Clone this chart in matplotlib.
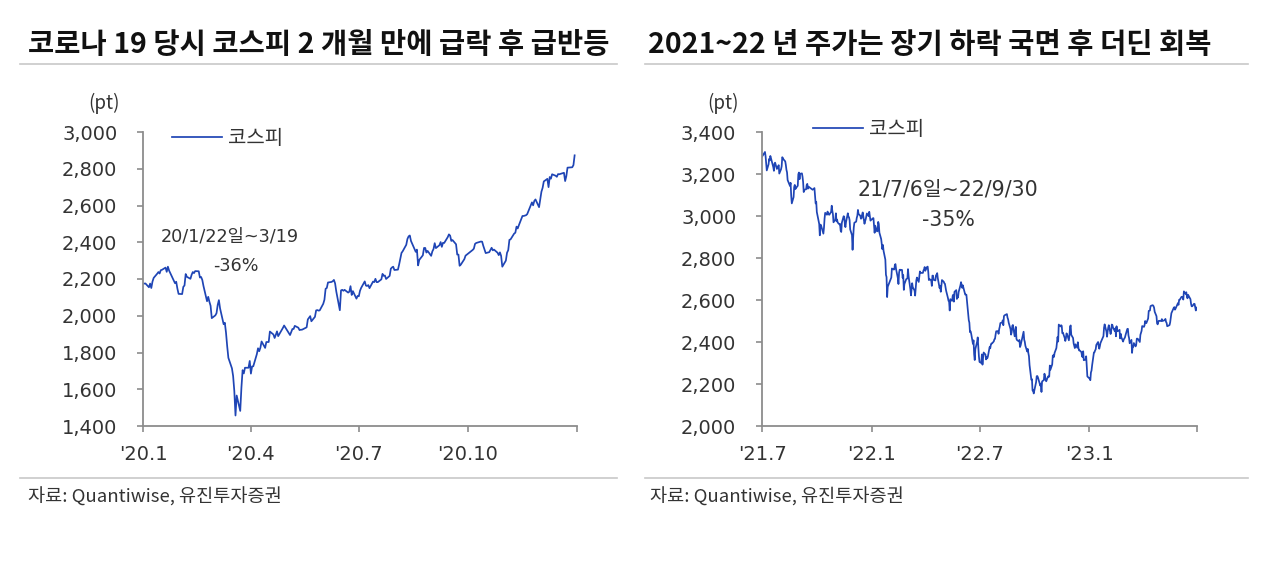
import pandas as pd
import matplotlib
matplotlib.use("Agg")
import matplotlib.pyplot as plt
from matplotlib.lines import Line2D
from matplotlib.ticker import FuncFormatter, MultipleLocator

plt.rcParams['font.family'] = ['Noto Sans CJK KR', 'DejaVu Sans']
num_font = ['DejaVu Sans', 'Noto Sans CJK KR']

# ---- data: KOSPI 2020 (left panel) ----
d20 = ["01-02","01-03","01-06","01-07","01-08","01-09","01-10","01-13","01-14","01-15","01-16","01-17",
       "01-20","01-21","01-22","01-23","01-28","01-29","01-30","01-31","02-03","02-04","02-05","02-06",
       "02-07","02-10","02-11","02-12","02-13","02-14","02-17","02-18","02-19","02-20","02-21","02-24",
       "02-25","02-26","02-27","02-28","03-02","03-03","03-04","03-05","03-06","03-09","03-10","03-11",
       "03-12","03-13","03-16","03-17","03-18","03-19","03-20","03-23","03-24","03-25","03-26","03-27",
       "03-30","03-31","04-01","04-02","04-03","04-06","04-07","04-08","04-09","04-10","04-13","04-14",
       "04-16","04-17","04-20","04-21","04-22","04-23","04-24","04-27","04-28","04-29","05-04","05-06",
       "05-07","05-08","05-11","05-12","05-13","05-14","05-15","05-18","05-19","05-20","05-21","05-22",
       "05-25","05-26","05-27","05-28","05-29","06-01","06-02","06-03","06-04","06-05","06-08","06-09",
       "06-10","06-11","06-12","06-15","06-16","06-17","06-18","06-19","06-22","06-23","06-24","06-25",
       "06-26","06-29","06-30","07-01","07-02","07-03","07-06","07-07","07-08","07-09","07-10","07-13",
       "07-14","07-15","07-16","07-17","07-20","07-21","07-22","07-23","07-24","07-27","07-28","07-29",
       "07-30","07-31","08-03","08-04","08-05","08-06","08-07","08-10","08-11","08-12","08-13","08-14",
       "08-18","08-19","08-20","08-21","08-24","08-25","08-26","08-27","08-28","08-31","09-01","09-02",
       "09-03","09-04","09-07","09-08","09-09","09-10","09-11","09-14","09-15","09-16","09-17","09-18",
       "09-21","09-22","09-23","09-24","09-25","09-28","09-29","10-05","10-06","10-07","10-08","10-12",
       "10-13","10-14","10-15","10-16","10-19","10-20","10-21","10-22","10-23","10-26","10-27","10-28",
       "10-29","10-30","11-02","11-03","11-04","11-05","11-06","11-09","11-10","11-11","11-12","11-13",
       "11-16","11-17","11-18","11-19","11-20","11-23","11-24","11-25","11-26","11-27","11-30","12-01",
       "12-02","12-03","12-04","12-07","12-08","12-09","12-10","12-11","12-14","12-15","12-16","12-17",
       "12-18","12-21","12-22","12-23","12-24","12-28","12-29","12-30"]
k20 = [2175,2176,2155,2175,2151,2186,2206,2229,2238,2230,2248,2250,
       2262,2239,2267,2246,2177,2185,2148,2119,2118,2157,2165,2227,
       2212,2201,2223,2238,2232,2243,2242,2208,2211,2195,2162,2079,
       2103,2076,2054,1987,2002,2014,2059,2085,2040,1954,1962,1908,
       1834,1771,1714,1672,1591,1457,1566,1482,1609,1704,1686,1717,
       1717,1754,1685,1724,1725,1791,1823,1807,1826,1860,1825,1857,
       1857,1914,1898,1879,1896,1915,1889,1922,1934,1947,1895,1928,
       1928,1945,1935,1922,1924,1924,1927,1937,1980,1989,1998,1970,
       1994,2029,2031,2028,2029,2065,2087,2147,2151,2181,2184,2188,
       2195,2176,2132,2030,2138,2141,2136,2141,2126,2131,2161,2113,
       2134,2093,2108,2106,2136,2152,2187,2164,2162,2167,2150,2186,
       2183,2201,2183,2183,2198,2228,2217,2219,2200,2217,2256,2263,
       2267,2249,2251,2279,2311,2342,2351,2386,2418,2432,2437,2407,
       2348,2360,2274,2304,2329,2369,2369,2344,2353,2326,2350,2363,
       2395,2368,2384,2401,2375,2397,2396,2428,2443,2436,2407,2412,
       2389,2333,2333,2272,2278,2308,2327,2358,2365,2391,2396,2404,
       2403,2380,2361,2341,2346,2358,2370,2356,2360,2343,2330,2345,
       2326,2267,2300,2343,2357,2413,2416,2447,2452,2485,2475,2493,
       2543,2543,2545,2547,2553,2602,2617,2601,2625,2633,2591,2634,
       2675,2696,2731,2745,2700,2755,2746,2770,2762,2756,2771,2770,
       2772,2778,2733,2760,2806,2808,2820,2873]

# ---- data: KOSPI 2021.7 ~ 2023.6 (right panel) ----
d21 = ["07-01","07-06","07-07","07-08","07-09","07-12","07-13","07-14","07-15","07-16","07-19","07-20",
       "07-21","07-22","07-23","07-26","07-27","07-28","07-29","07-30","08-02","08-03","08-04","08-05",
       "08-06","08-09","08-10","08-11","08-12","08-13","08-17","08-18","08-19","08-20","08-23","08-24",
       "08-25","08-26","08-27","08-30","08-31","09-01","09-02","09-03","09-06","09-07","09-08","09-09",
       "09-10","09-13","09-14","09-15","09-16","09-17","09-23","09-24","09-27","09-28","09-29","09-30",
       "10-01","10-05","10-06","10-07","10-08","10-12","10-13","10-14","10-15","10-18","10-19","10-20",
       "10-21","10-22","10-25","10-26","10-27","10-28","10-29","11-01","11-02","11-03","11-04","11-05",
       "11-08","11-09","11-10","11-11","11-12","11-15","11-16","11-17","11-18","11-19","11-22","11-23",
       "11-24","11-25","11-26","11-29","11-30","12-01","12-02","12-03","12-06","12-07","12-08","12-09",
       "12-10","12-13","12-14","12-15","12-16","12-17","12-20","12-21","12-22","12-23","12-24","12-27",
       "12-28","12-30"]
k21 = [3282,3305,3285,3252,3217,3246,3272,3265,3286,3276,3244,3232,
       3215,3250,3254,3224,3232,3236,3242,3202,3223,3237,3280,3276,
       3270,3260,3243,3220,3208,3171,3143,3158,3097,3060,3090,3138,
       3148,3128,3133,3144,3199,3207,3175,3201,3203,3187,3162,3114,
       3125,3127,3148,3153,3130,3140,3127,3125,3133,3097,3060,3068,
       3019,2962,2908,2959,2956,2916,2944,2988,3015,3006,3021,3013,
       3007,3006,3020,3049,3025,3009,2970,2983,3013,2975,2983,2969,
       2960,2962,2930,2924,2968,2999,2997,2962,2947,2971,3013,2997,
       2994,2980,2936,2909,2839,2899,2945,2968,2973,2991,3001,3029,
       3010,3001,2987,2989,3006,3017,2963,2975,2984,2998,3012,2999,
       3020,2978]
d22 = ["01-03","01-04","01-05","01-06","01-07","01-10","01-11","01-12","01-13","01-14","01-17","01-18",
       "01-19","01-20","01-21","01-24","01-25","01-26","01-27","01-28","02-03","02-04","02-07","02-08",
       "02-09","02-10","02-11","02-14","02-15","02-16","02-17","02-18","02-21","02-22","02-23","02-24",
       "02-25","02-28","03-02","03-03","03-04","03-07","03-08","03-10","03-11","03-14","03-15","03-16",
       "03-17","03-18","03-21","03-22","03-23","03-24","03-25","03-28","03-29","03-30","03-31","04-01",
       "04-04","04-05","04-06","04-07","04-08","04-11","04-12","04-13","04-14","04-15","04-18","04-19",
       "04-20","04-21","04-22","04-25","04-26","04-27","04-28","04-29","05-02","05-03","05-04","05-06",
       "05-09","05-10","05-11","05-12","05-13","05-16","05-17","05-18","05-19","05-20","05-23","05-24",
       "05-25","05-26","05-27","05-30","05-31","06-02","06-03","06-07","06-08","06-09","06-10","06-13",
       "06-14","06-15","06-16","06-17","06-20","06-21","06-22","06-23","06-24","06-27","06-28","06-29",
       "06-30","07-01","07-04","07-05","07-06","07-07","07-08","07-11","07-12","07-13","07-14","07-15",
       "07-18","07-19","07-20","07-21","07-22","07-25","07-26","07-27","07-28","07-29","08-01","08-02",
       "08-03","08-04","08-05","08-08","08-09","08-10","08-11","08-12","08-16","08-17","08-18","08-19",
       "08-22","08-23","08-24","08-25","08-26","08-29","08-30","08-31","09-01","09-02","09-05","09-06",
       "09-07","09-08","09-13","09-14","09-15","09-16","09-19","09-20","09-21","09-22","09-23","09-26",
       "09-27","09-28","09-29","09-30","10-04","10-05","10-06","10-07","10-11","10-12","10-13","10-14",
       "10-17","10-18","10-19","10-20","10-21","10-24","10-25","10-26","10-27","10-28","10-31","11-01",
       "11-02","11-03","11-04","11-07","11-08","11-09","11-10","11-11","11-14","11-15","11-16","11-17",
       "11-18","11-21","11-22","11-23","11-24","11-25","11-28","11-29","11-30","12-01","12-02","12-05",
       "12-06","12-07","12-08","12-09","12-12","12-13","12-14","12-15","12-16","12-19","12-20","12-21",
       "12-22","12-23","12-26","12-27","12-28","12-29"]
k22 = [2989,2990,2953,2920,2954,2927,2928,2972,2962,2921,2890,2864,
       2842,2862,2834,2792,2720,2709,2614,2663,2707,2750,2745,2746,
       2768,2771,2747,2704,2676,2729,2744,2744,2743,2706,2719,2648,
       2676,2699,2703,2747,2713,2651,2622,2680,2661,2645,2621,2659,
       2694,2707,2686,2713,2736,2730,2729,2729,2741,2746,2757,2739,
       2757,2759,2735,2695,2700,2693,2667,2716,2716,2696,2693,2718,
       2718,2728,2704,2657,2668,2639,2667,2695,2687,2680,2677,2644,
       2610,2596,2592,2550,2604,2596,2620,2625,2592,2639,2647,2605,
       2617,2612,2638,2670,2685,2658,2670,2626,2626,2625,2595,2504,
       2492,2447,2451,2440,2391,2408,2342,2314,2366,2401,2422,2377,
       2332,2305,2300,2341,2292,2324,2350,2340,2317,2328,2322,2330,
       2376,2370,2386,2393,2393,2403,2413,2415,2435,2451,2452,2439,
       2461,2473,2490,2493,2503,2480,2523,2527,2533,2516,2508,2492,
       2462,2435,2447,2477,2481,2427,2450,2472,2415,2409,2403,2410,
       2376,2384,2449,2411,2401,2382,2355,2367,2347,2332,2290,2220,
       2223,2169,2170,2155,2209,2237,2238,2232,2192,2202,2162,2212,
       2219,2249,2237,2218,2213,2236,2235,2235,2288,2268,2293,2335,
       2337,2329,2348,2371,2399,2424,2402,2483,2474,2480,2477,2442,
       2444,2419,2405,2417,2441,2437,2408,2433,2473,2479,2434,2419,
       2393,2382,2371,2389,2373,2399,2373,2360,2360,2352,2333,2328,
       2356,2313,2317,2332,2280,2236]
d23 = ["01-02","01-03","01-04","01-05","01-06","01-09","01-10","01-11","01-12","01-13","01-16","01-17",
       "01-18","01-19","01-20","01-25","01-26","01-27","01-30","01-31","02-01","02-02","02-03","02-06",
       "02-07","02-08","02-09","02-10","02-13","02-14","02-15","02-16","02-17","02-20","02-21","02-22",
       "02-23","02-24","02-27","02-28","03-02","03-03","03-06","03-07","03-08","03-09","03-10","03-13",
       "03-14","03-15","03-16","03-17","03-20","03-21","03-22","03-23","03-24","03-27","03-28","03-29",
       "03-30","03-31","04-03","04-04","04-05","04-06","04-07","04-10","04-11","04-12","04-13","04-14",
       "04-17","04-18","04-19","04-20","04-21","04-24","04-25","04-26","04-27","04-28","05-02","05-03",
       "05-04","05-08","05-09","05-10","05-11","05-12","05-15","05-16","05-17","05-18","05-19","05-22",
       "05-23","05-24","05-25","05-26","05-30","05-31","06-01","06-02","06-05","06-07","06-08","06-09",
       "06-12","06-13","06-14","06-15","06-16","06-19","06-20","06-21","06-22","06-23","06-26","06-27",
       "06-28","06-29","06-30"]
k23 = [2225,2218,2255,2264,2289,2350,2351,2360,2365,2386,2400,2379,
       2368,2380,2395,2428,2468,2484,2450,2425,2449,2468,2480,2438,
       2452,2483,2481,2469,2452,2465,2427,2475,2451,2455,2458,2417,
       2439,2423,2402,2412,2421,2432,2462,2463,2431,2419,2394,2410,
       2348,2379,2377,2395,2379,2388,2416,2416,2414,2400,2434,2443,
       2453,2476,2472,2480,2500,2490,2490,2512,2548,2549,2550,2571,
       2575,2575,2571,2563,2544,2523,2489,2484,2495,2501,2500,2509,
       2500,2504,2510,2496,2491,2475,2479,2481,2494,2515,2537,2557,
       2563,2566,2554,2559,2585,2577,2601,2601,2615,2615,2602,2641,
       2629,2637,2619,2608,2625,2609,2604,2582,2570,2570,2582,2581,
       2564,2550,2564]

left_ticks = ["2020-01-01", "2020-04-01", "2020-07-01", "2020-10-01", "2021-01-01"]
left_ticklabels = ["'20.1", "'20.4", "'20.7", "'20.10", ""]
right_ticks = ["2021-07-01", "2022-01-01", "2022-07-01", "2023-01-01", "2023-07-01"]
right_ticklabels = ["'21.7", "'22.1", "'22.7", "'23.1", ""]

x20 = pd.to_datetime(["2020-" + d for d in d20])
x2 = pd.to_datetime(["2021-" + d for d in d21] + ["2022-" + d for d in d22] + ["2023-" + d for d in d23])
k2 = k21 + k22 + k23

line_color = "#1f45b5"
axis_color = "#8c8c8c"
text_color = "#333333"

fig = plt.figure(figsize=(12.7, 5.66), dpi=100)
W, H = 1270, 566


def px(x, y):
    return x / W, 1 - y / H


def style_axis(ax, ticks, labels, ylim, ystep):
    for s in ["top", "right"]:
        ax.spines[s].set_visible(False)
    for s in ["left", "bottom"]:
        ax.spines[s].set_color(axis_color)
        ax.spines[s].set_linewidth(1.3)
    ax.set_ylim(*ylim)
    ax.yaxis.set_major_locator(MultipleLocator(ystep))
    ax.yaxis.set_major_formatter(FuncFormatter(lambda v, p: f"{int(v):,}"))
    t = pd.to_datetime(ticks)
    ax.set_xlim(t[0], t[-1])
    ax.set_xticks(t)
    ax.set_xticklabels(labels)
    ax.tick_params(axis="y", direction="out", length=4.5, width=1.2, color=axis_color,
                   labelsize=14, labelcolor=text_color, pad=14)
    ax.tick_params(axis="x", direction="out", length=4.5, width=1.2, color=axis_color,
                   labelsize=14, labelcolor=text_color, pad=9)
    for lab in ax.get_xticklabels() + ax.get_yticklabels():
        lab.set_family(num_font)


def add_legend(ax, x, y):
    ax.legend(loc="upper left", bbox_to_anchor=(x, y), frameon=False, prop={'size': 14.4},
              handlelength=2.5, handletextpad=0.3, borderpad=0, borderaxespad=0,
              labelcolor=text_color)


# left panel
ax1 = fig.add_axes([143 / W, 1 - 426 / H, 434 / W, 294 / H])
ax1.plot(x20, k20, color=line_color, lw=1.25, label="코스피")
style_axis(ax1, left_ticks, left_ticklabels, (1400, 3000), 200)
add_legend(ax1, 0.067, 1.013)
ax1.text(0.20, 0.646, "20/1/22일~3/19", transform=ax1.transAxes, ha="center", va="center",
         fontsize=12.7, color=text_color, family=num_font)
ax1.text(0.214, 0.544, "-36%", transform=ax1.transAxes, ha="center", va="center",
         fontsize=12.7, color=text_color, family=num_font)

# right panel
ax2 = fig.add_axes([762 / W, 1 - 426 / H, 435 / W, 294 / H])
ax2.plot(x2, k2, color=line_color, lw=1.25, label="코스피")
style_axis(ax2, right_ticks, right_ticklabels, (2000, 3400), 200)
add_legend(ax2, 0.117, 1.043)
ax2.text(0.428, 0.803, "21/7/6일~22/9/30", transform=ax2.transAxes, ha="center", va="center",
         fontsize=14.8, color=text_color, family=num_font)
ax2.text(0.428, 0.70, "-35%", transform=ax2.transAxes, ha="center", va="center",
         fontsize=14.8, color=text_color, family=num_font)

# titles, units, rules, sources
fig.text(*px(28, 45), "코로나 19 당시 코스피 2 개월 만에 급락 후 급반등", fontsize=20.5,
         fontweight="bold", color="#111111", ha="left", va="center")
fig.text(*px(648, 45), "2021~22 년 주가는 장기 하락 국면 후 더딘 회복", fontsize=20.5,
         fontweight="bold", color="#111111", ha="left", va="center")
for x0, x1 in [(20, 617), (645, 1248)]:
    fig.add_artist(Line2D([x0 / W, x1 / W], [1 - 64 / H] * 2, color="#c8c8c8", lw=1.2))
    fig.add_artist(Line2D([x0 / W, x1 / W], [1 - 478 / H] * 2, color="#c8c8c8", lw=1.2))
fig.text(*px(104, 103), "(pt)", fontsize=13.5, color=text_color, ha="center", va="center")
fig.text(*px(723, 103), "(pt)", fontsize=13.5, color=text_color, ha="center", va="center")
fig.text(*px(28, 497), "자료: Quantiwise, 유진투자증권", fontsize=13.4, color=text_color,
         ha="left", va="center")
fig.text(*px(650, 497), "자료: Quantiwise, 유진투자증권", fontsize=13.4, color=text_color,
         ha="left", va="center")

fig.savefig("out.png", dpi=100, facecolor="white")
